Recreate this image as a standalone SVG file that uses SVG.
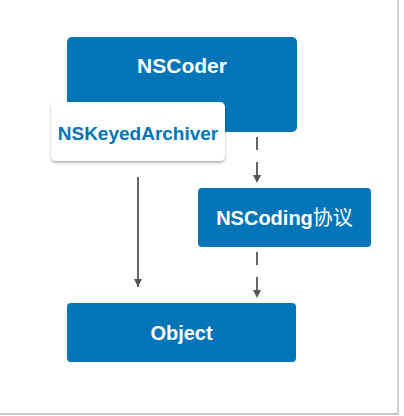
<svg xmlns="http://www.w3.org/2000/svg" width="404" height="416" viewBox="0 0 404 416">
<defs>
<style>
.box{fill:#0175B8;}
.lbl{font-family:"Liberation Sans",Arial,"Noto Sans CJK SC",sans-serif;font-weight:bold;font-size:20px;fill:#fff;text-anchor:middle;}
.edge{stroke:#666;stroke-width:2;fill:none;}
.dash{stroke-dasharray:13 12;}
</style>
<marker id="ah" viewBox="0 0 10 10" refX="10" refY="5" markerWidth="8" markerHeight="8" markerUnits="userSpaceOnUse" orient="auto">
<path d="M0,0 L10,5 L0,10 z" fill="#555"/>
</marker>
<filter id="sh" x="-10%" y="-10%" width="130%" height="140%">
<feDropShadow dx="0" dy="1.5" stdDeviation="1.2" flood-color="#000" flood-opacity="0.35"/>
</filter>
</defs>
<rect x="0" y="0" width="404" height="416" fill="#fff"/>
<rect x="397" y="0" width="2" height="415" fill="#d0d0d0"/>
<rect x="0" y="413" width="399" height="2" fill="#c8c8c8"/>
<g id="connectors">
<line class="edge" x1="138" y1="177" x2="138" y2="287" marker-end="url(#ah)"/>
<line class="edge dash" x1="257" y1="137" x2="257" y2="183" marker-end="url(#ah)"/>
<line class="edge dash" x1="257" y1="252" x2="257" y2="298" marker-end="url(#ah)"/>
</g>
<g id="nscoder">
<rect class="box" x="67" y="37" width="230" height="95" rx="5"/>
<text class="lbl" x="182" y="73" font-size="21" style="font-size:21px">NSCoder</text>
</g>
<g id="nskeyedarchiver">
<rect x="51" y="102" width="174" height="59" rx="5" fill="#fff" filter="url(#sh)"/>
<text class="lbl" x="138" y="140" style="fill:#0175B8;font-size:19px">NSKeyedArchiver</text>
</g>
<g id="nscoding">
<rect class="box" x="198" y="188" width="173" height="59" rx="4"/>
<text class="lbl" x="284.5" y="225">NSCoding<tspan style="font-weight:normal">协议</tspan></text>
</g>
<g id="object">
<rect class="box" x="67" y="303" width="229" height="59" rx="4"/>
<text class="lbl" x="181.5" y="340">Object</text>
</g>
</svg>
